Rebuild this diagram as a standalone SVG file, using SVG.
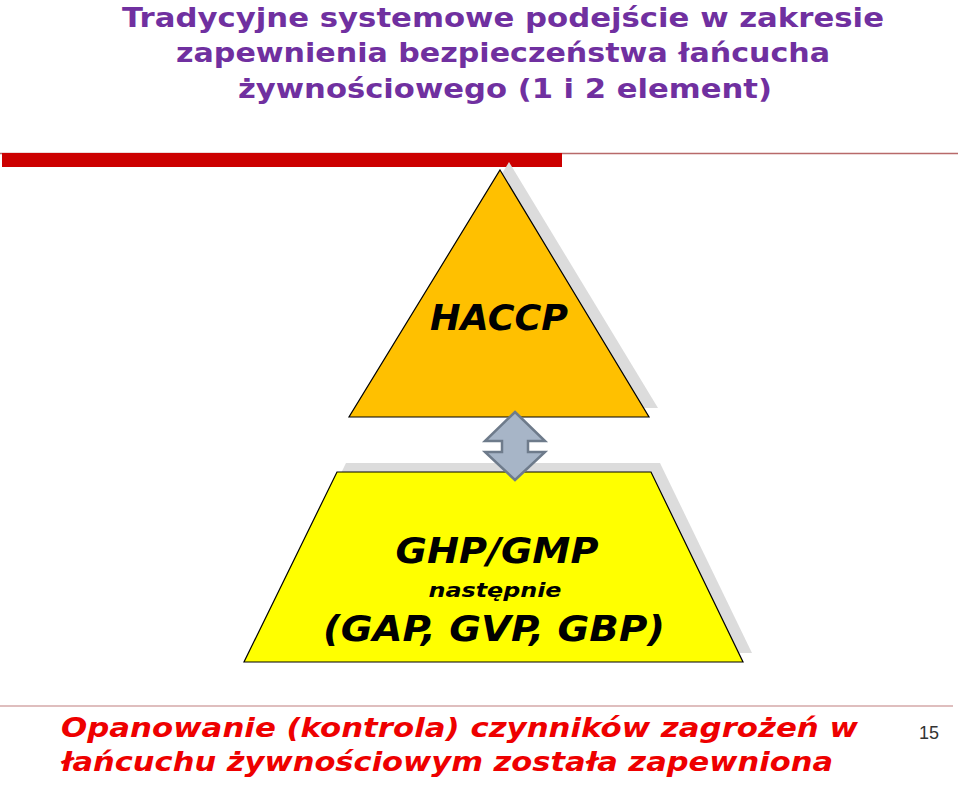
<svg xmlns="http://www.w3.org/2000/svg" width="960" height="785" viewBox="0 0 960 785">
<style>
.title{font-family:"DejaVu Sans",Verdana,sans-serif;font-weight:bold;font-size:27px;fill:#7030A0;text-anchor:middle}
.lbl{font-family:"DejaVu Sans",Verdana,sans-serif;font-weight:bold;font-style:italic;fill:#000;text-anchor:middle}
.foot{font-family:"DejaVu Sans",Verdana,sans-serif;font-weight:bold;font-style:italic;font-size:27px;fill:#EE0000}
.shadow{fill:#DCDCDC}
</style>
<rect width="960" height="785" fill="#fff"/>
<g id="title">
<text class="title" x="503" y="27" textLength="762" lengthAdjust="spacingAndGlyphs">Tradycyjne systemowe podejście w zakresie</text>
<text class="title" x="503" y="62" textLength="654" lengthAdjust="spacingAndGlyphs">zapewnienia bezpieczeństwa łańcucha</text>
<text class="title" x="505" y="98" textLength="534" lengthAdjust="spacingAndGlyphs">żywnościowego (1 i 2 element)</text>
</g>
<g id="rule-top">
<line x1="0" y1="153.5" x2="958" y2="153.5" stroke="#B86A6A" stroke-width="1.5"/>
<rect x="2" y="153" width="560" height="14" fill="#CC0000"/>
</g>
<g id="haccp">
<polygon class="shadow" points="509,162 658,408 360,408"/>
<polygon points="500,170 649,417 349,417" fill="#FFC000" stroke="#000" stroke-width="1.2"/>
<text class="lbl" x="499" y="330" font-size="35" textLength="138" lengthAdjust="spacingAndGlyphs">HACCP</text>
</g>
<g id="ghp">
<polygon class="shadow" points="346,463 660,463 752,653 253,653"/>
<polygon points="337,472 651,472 743,662 244,662" fill="#FFFF00" stroke="#000" stroke-width="1.2"/>
<text class="lbl" x="497" y="563" font-size="35" textLength="203" lengthAdjust="spacingAndGlyphs">GHP/GMP</text>
<text class="lbl" x="495" y="597" font-size="20" textLength="133" lengthAdjust="spacingAndGlyphs">następnie</text>
<text class="lbl" x="494" y="641" font-size="35" textLength="342" lengthAdjust="spacingAndGlyphs">(GAP, GVP, GBP)</text>
</g>
<g id="connectors">
<polygon points="515,412 545,441 528,441 528,452 545,452 515,480 485,452 502,452 502,441 485,441" fill="#A7B5C7" stroke="#6E7B8B" stroke-width="2.5" stroke-linejoin="miter"/>
</g>
<g id="footer">
<line x1="0" y1="706" x2="953" y2="706" stroke="#D4A8A8" stroke-width="1.5"/>
<text class="foot" x="61" y="737" textLength="797" lengthAdjust="spacingAndGlyphs">Opanowanie (kontrola) czynników zagrożeń w</text>
<text class="foot" x="61" y="771" textLength="772" lengthAdjust="spacingAndGlyphs">łańcuchu żywnościowym została zapewniona</text>
<text x="919" y="739" font-family="'Liberation Sans',Arial,sans-serif" font-size="18" fill="#333">15</text>
</g>
</svg>
